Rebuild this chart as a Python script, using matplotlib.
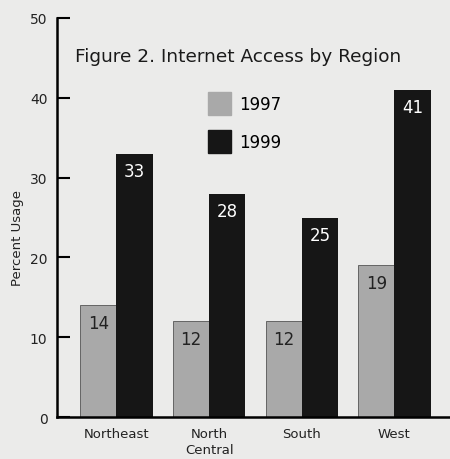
import matplotlib.pyplot as plt
import numpy as np

regions = ["Northeast", "North\nCentral", "South", "West"]
years = ["1997", "1999"]
usage_1997 = [14, 12, 12, 19]
usage_1999 = [33, 28, 25, 41]

BG = "#ebebea"
GRAY = "#a9a9a9"
BLACK = "#161616"


def graph():
    fig = plt.figure(figsize=(4.5, 4.6), dpi=100, facecolor=BG)
    ax = fig.add_axes([0.127, 0.091, 0.873, 0.868])
    ax.set_facecolor(BG)

    x = np.arange(len(regions))
    w = 0.39
    b1 = ax.bar(x - w / 2, usage_1997, width=w, color=GRAY, edgecolor="#555555", linewidth=0.6)
    b2 = ax.bar(x + w / 2, usage_1999, width=w, color=BLACK)

    # value labels inside bar tops
    for rect, v in zip(b1, usage_1997):
        ax.text(rect.get_x() + rect.get_width() / 2, v - 2.2, str(v),
                ha="center", va="center", fontsize=12, color="#222222")
    for rect, v in zip(b2, usage_1999):
        ax.text(rect.get_x() + rect.get_width() / 2, v - 2.2, str(v),
                ha="center", va="center", fontsize=12, color="white")

    ax.set_xlim(-0.64, 3.6)
    ax.set_ylim(0, 50)
    ax.set_yticks([0, 10, 20, 30, 40, 50])
    ax.set_xticks(x)
    ax.set_xticklabels(regions, fontsize=9.5, color="#222222", va="top", linespacing=1.35)
    ax.tick_params(axis="x", length=0, pad=7)
    ax.tick_params(axis="y", direction="in", length=9, width=1.5, labelsize=10,
                   labelcolor="#222222", pad=7)
    for s in ["top", "right"]:
        ax.spines[s].set_visible(False)
    ax.spines["left"].set_linewidth(1.8)
    ax.spines["bottom"].set_linewidth(1.8)
    ax.set_ylabel("Percent Usage", fontsize=9.5, color="#222222")
    ax.yaxis.set_label_coords(-0.085, 0.45)

    ax.text(0.045, 0.905, "Figure 2. Internet Access by Region", transform=ax.transAxes,
            fontsize=13.3, color="#1a1a1a", va="center", ha="left")

    # legend with square patches
    handles = [plt.Rectangle((0, 0), 1, 1, color=GRAY), plt.Rectangle((0, 0), 1, 1, color=BLACK)]
    ax.legend(handles, years, loc="upper left", bbox_to_anchor=(0.384, 0.815),
              frameon=False, fontsize=12, handlelength=1.4, handleheight=1.75,
              handletextpad=0.45, labelspacing=0.9, borderaxespad=0, borderpad=0)

    plt.savefig("out.png", facecolor=BG)


def main():
    graph()


if __name__ == "__main__":
    main()
